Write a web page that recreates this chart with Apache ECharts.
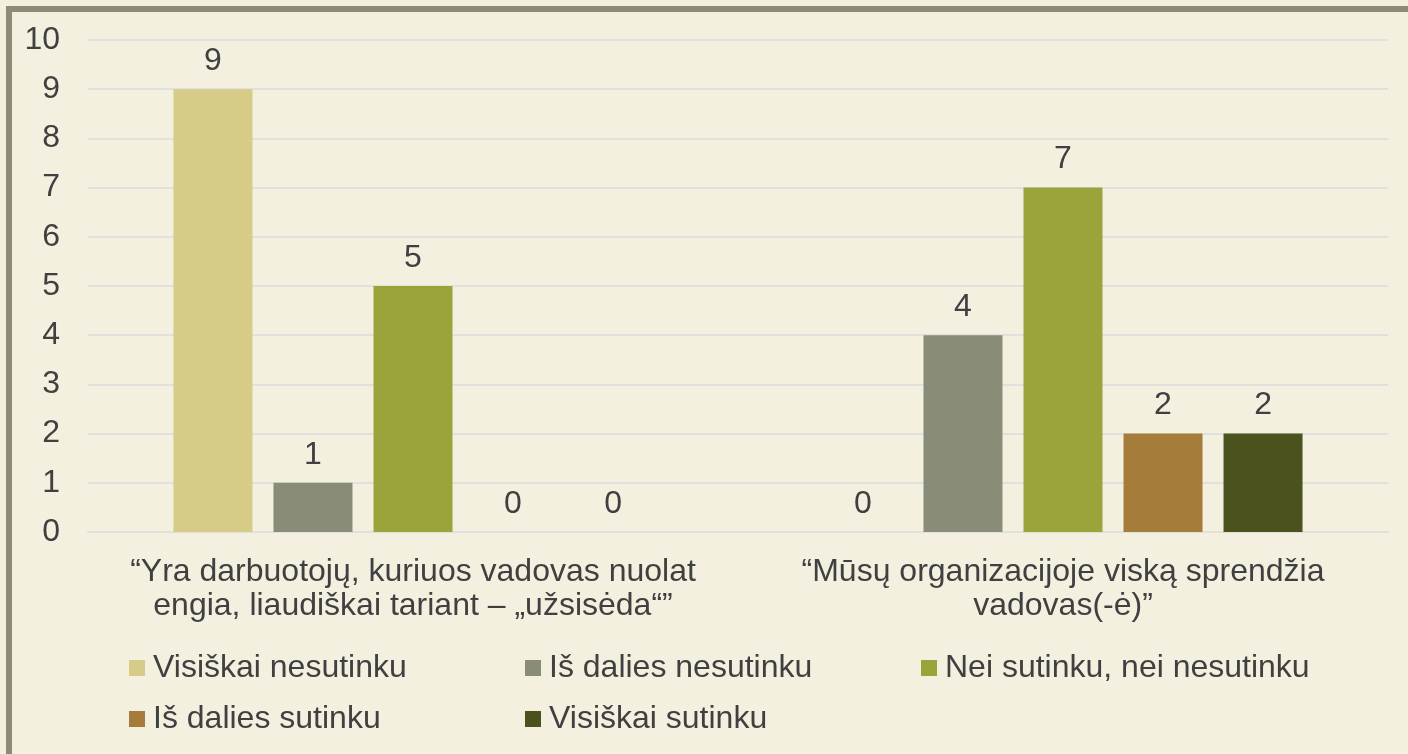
<!DOCTYPE html>
<html>
<head>
<meta charset="utf-8">
<script src="https://cdn.jsdelivr.net/npm/echarts@6/dist/echarts.min.js"></script>
<style>
html,body{margin:0;padding:0;background:#F3F0DF;}
#c{width:1408px;height:754px;}
</style>
</head>
<body>
<div id="c"></div>
<script>
const categories = [
  '\u201CYra darbuotojų, kuriuos vadovas nuolat\nengia, liaudiškai tariant – „užsisėda“\u201D',
  '\u201CMūsų organizacijoje viską sprendžia\nvadovas(-ė)\u201D'
];
const seriesNames = ['Visiškai nesutinku', 'Iš dalies nesutinku', 'Nei sutinku, nei nesutinku', 'Iš dalies sutinku', 'Visiškai sutinku'];
const visiskaiNesutinku = [9, 0];
const isDaliesNesutinku = [1, 4];
const neiSutinkuNeiNesutinku = [5, 7];
const isDaliesSutinku = [0, 2];
const visiskaiSutinku = [0, 2];
const yTicks = [0, 10, 1]; // min, max, interval

const colors = ['#D6CB87', '#898C76', '#9AA43A', '#A67C3A', '#4B521D'];
const values = [visiskaiNesutinku, isDaliesNesutinku, neiSutinkuNeiNesutinku, isDaliesSutinku, visiskaiSutinku];
const FONT = '"Liberation Sans", Arial, sans-serif';
const TXT = '#404040';
const FS = 32;

const legendPos = [
  {left: 129, top: 652}, {left: 525, top: 652}, {left: 921, top: 652},
  {left: 129, top: 703}, {left: 525, top: 703}
];

const chart = echarts.init(document.getElementById('c'), null, {renderer: 'canvas'});
chart.setOption({
  backgroundColor: '#F3F0DF',
  animation: false,
  color: colors,
  textStyle: {fontFamily: FONT},
  graphic: [{
    type: 'rect', silent: true, z: 100,
    shape: {x: 9, y: 9, width: 1420, height: 750},
    style: {fill: 'none', stroke: '#8A8C76', lineWidth: 6}
  }],
  legend: seriesNames.map((n, i) => ({
    data: [n],
    left: legendPos[i].left, top: legendPos[i].top,
    padding: 0,
    icon: 'rect', itemWidth: 16, itemHeight: 16,
    selectedMode: false,
    textStyle: {fontSize: FS, color: TXT, fontFamily: FONT, lineHeight: 32, padding: [0, 0, 0, 3]}
  })),
  grid: {left: 88, right: 20, top: 40, bottom: 222, containLabel: false},
  xAxis: {
    type: 'category', data: categories,
    axisLine: {show: true, lineStyle: {color: '#E2E0DA', width: 2}},
    axisTick: {show: false},
    axisLabel: {fontSize: FS, color: TXT, fontFamily: FONT, lineHeight: 34, margin: 23, interval: 0}
  },
  yAxis: {
    type: 'value', min: yTicks[0], max: yTicks[1], interval: yTicks[2],
    axisLine: {show: false}, axisTick: {show: false},
    splitLine: {lineStyle: {color: '#E2E0DA', width: 2}},
    axisLabel: {fontSize: FS, color: TXT, fontFamily: FONT, margin: 28}
  },
  series: seriesNames.map((n, i) => ({
    name: n, type: 'bar', data: values[i],
    barWidth: 79, barGap: '26.6%',
    itemStyle: {color: colors[i]},
    label: {show: true, position: 'top', distance: 12, fontSize: FS, color: TXT, fontFamily: FONT}
  }))
});
</script>
</body>
</html>
